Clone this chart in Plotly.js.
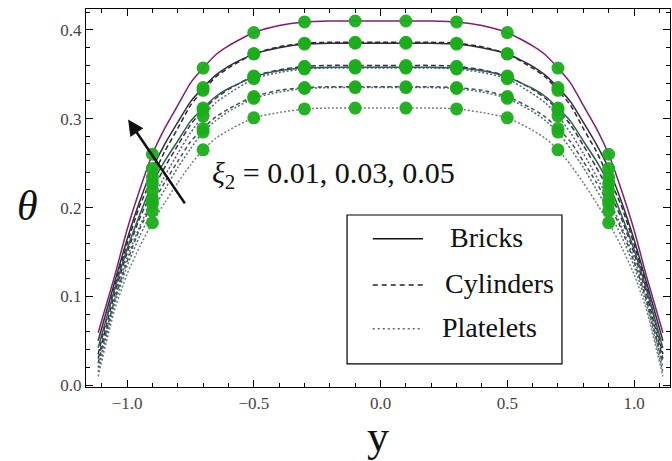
<!DOCTYPE html>
<html>
<head>
<meta charset="utf-8">
<script src="https://cdn.plot.ly/plotly-3.0.1.min.js"></script>
<style>
  html, body { margin: 0; padding: 0; background: #fff; }
  #chart { width: 672px; height: 461px; }
</style>
</head>
<body>
<div id="chart"></div>
<script>
// Channel position y across the channel
const yPos = [-1.114, -1.05, -1.0, -0.95, -0.9, -0.85, -0.8, -0.75, -0.7, -0.65, -0.6, -0.5, -0.4, -0.3, -0.2, -0.1, 0,
              0.1, 0.2, 0.3, 0.4, 0.5, 0.6, 0.65, 0.7, 0.75, 0.8, 0.85, 0.9, 0.95, 1.0, 1.05, 1.114];

// Positions where the green sample points are drawn
const dotPos = [-0.9, -0.7, -0.5, -0.3, -0.1, 0.1, 0.3, 0.5, 0.7, 0.9];

// Temperature θ — Bricks
const bricks05 = [0.059, 0.122, 0.175, 0.220, 0.260, 0.290, 0.315, 0.340, 0.357, 0.372, 0.382, 0.397, 0.405, 0.409, 0.410, 0.410, 0.410,
                  0.410, 0.410, 0.409, 0.405, 0.397, 0.382, 0.372, 0.357, 0.340, 0.315, 0.290, 0.260, 0.220, 0.175, 0.122, 0.059];
const bricks03 = [0.050, 0.115, 0.164, 0.207, 0.244, 0.272, 0.296, 0.319, 0.335, 0.349, 0.359, 0.373, 0.380, 0.384, 0.385, 0.385, 0.385,
                  0.385, 0.385, 0.384, 0.380, 0.373, 0.359, 0.349, 0.335, 0.319, 0.296, 0.272, 0.244, 0.207, 0.164, 0.115, 0.050];
const bricks01 = [0.042, 0.107, 0.153, 0.192, 0.227, 0.253, 0.275, 0.297, 0.312, 0.325, 0.334, 0.347, 0.354, 0.357, 0.358, 0.358, 0.358,
                  0.358, 0.358, 0.357, 0.354, 0.347, 0.334, 0.325, 0.312, 0.297, 0.275, 0.253, 0.227, 0.192, 0.153, 0.107, 0.042];
// Cylinders
const cyl05 = [0.035, 0.110, 0.159, 0.202, 0.234, 0.264, 0.289, 0.315, 0.332, 0.347, 0.357, 0.373, 0.381, 0.385, 0.386, 0.386, 0.386,
               0.386, 0.386, 0.385, 0.381, 0.373, 0.357, 0.347, 0.332, 0.315, 0.289, 0.264, 0.234, 0.202, 0.159, 0.110, 0.035];
const cyl03 = [0.030, 0.102, 0.149, 0.188, 0.219, 0.246, 0.270, 0.293, 0.310, 0.323, 0.333, 0.348, 0.355, 0.359, 0.360, 0.360, 0.360,
               0.360, 0.360, 0.359, 0.355, 0.348, 0.333, 0.323, 0.310, 0.293, 0.270, 0.246, 0.219, 0.188, 0.149, 0.102, 0.030];
const cyl01 = [0.025, 0.095, 0.139, 0.176, 0.204, 0.229, 0.252, 0.274, 0.289, 0.302, 0.311, 0.325, 0.332, 0.335, 0.336, 0.336, 0.336,
               0.336, 0.336, 0.335, 0.332, 0.325, 0.311, 0.302, 0.289, 0.274, 0.252, 0.229, 0.204, 0.176, 0.139, 0.095, 0.025];
// Platelets
const plt05 = [0.020, 0.096, 0.143, 0.179, 0.209, 0.236, 0.261, 0.284, 0.303, 0.318, 0.328, 0.345, 0.352, 0.356, 0.357, 0.357, 0.357,
               0.357, 0.357, 0.356, 0.352, 0.345, 0.328, 0.318, 0.303, 0.284, 0.261, 0.236, 0.209, 0.179, 0.143, 0.096, 0.020];
const plt03 = [0.015, 0.090, 0.134, 0.168, 0.196, 0.221, 0.245, 0.266, 0.285, 0.298, 0.308, 0.323, 0.330, 0.334, 0.335, 0.335, 0.335,
               0.335, 0.335, 0.334, 0.330, 0.323, 0.308, 0.298, 0.285, 0.266, 0.245, 0.221, 0.196, 0.168, 0.134, 0.090, 0.015];
const plt01 = [0.010, 0.084, 0.125, 0.156, 0.183, 0.206, 0.228, 0.248, 0.265, 0.278, 0.287, 0.301, 0.307, 0.311, 0.312, 0.312, 0.312,
               0.312, 0.312, 0.311, 0.307, 0.301, 0.287, 0.278, 0.265, 0.248, 0.228, 0.206, 0.183, 0.156, 0.125, 0.084, 0.010];

const legendNames = ['Bricks', 'Cylinders', 'Platelets'];
const xiLabel = '<i>ξ</i><sub>2</sub> = 0.01, 0.03, 0.05';

const curves = [
  { v: plt01,    color: '#7a7a7a', dash: '2px,2px' },
  { v: plt03,    color: '#3f7a5a', dash: '2px,2px' },
  { v: plt05,    color: '#5a5a90', dash: '2px,2px' },
  { v: cyl01,    color: '#4a4a5a', dash: '4px,3px' },
  { v: cyl03,    color: '#333344', dash: '5px,3px' },
  { v: cyl05,    color: '#2a2a2a', dash: '5px,3px' },
  { v: bricks01, color: '#2e5b4a', dash: 'solid' },
  { v: bricks03, color: '#34293f', dash: 'solid' },
  { v: bricks05, color: '#7d1f74', dash: 'solid' }
];

const traces = [];
curves.forEach(c => {
  traces.push({
    x: yPos, y: c.v, type: 'scatter', mode: 'lines',
    line: { color: c.color, width: 1.5, dash: c.dash, shape: 'spline', smoothing: 0.6 },
    showlegend: false, hoverinfo: 'skip'
  });
});
// green sample points taken from the same series
curves.forEach(c => {
  const dx = [], dy = [];
  yPos.forEach((p, i) => {
    if (dotPos.some(d => Math.abs(d - p) < 1e-9)) { dx.push(p); dy.push(c.v[i]); }
  });
  traces.push({
    x: dx, y: dy, type: 'scatter', mode: 'markers',
    marker: { color: 'rgb(30,172,30)', size: 13, opacity: 0.95, line: { width: 0 } },
    showlegend: false, hoverinfo: 'skip'
  });
});

const tickFont = { family: 'Liberation Serif', size: 17, color: '#444' };
const serif = 'Liberation Serif';

const axisCommon = {
  showgrid: false, zeroline: false, showline: true, linecolor: '#000', linewidth: 1.2,
  mirror: 'ticks', ticks: 'inside', tickcolor: '#000', tickwidth: 1, ticklen: 7,
  tickfont: tickFont, tickformat: '.1f'
};

// legend box drawn in paper space
const lgX0 = 0.447, lgX1 = 0.815, lgY0 = 0.061, lgY1 = 0.455;
const rowY = [0.392, 0.270, 0.154];
const sampleDash = ['solid', '5px,4px', '2px,3px'];
const sampleColor = ['#111', '#222', '#666'];
const textX = [0.62, 0.611, 0.607];

const shapes = [{
  type: 'rect', xref: 'paper', yref: 'paper', x0: lgX0, x1: lgX1, y0: lgY0, y1: lgY1,
  line: { color: '#000', width: 1.2 }, fillcolor: '#fff', layer: 'above'
}];
const annotations = [];
legendNames.forEach((n, i) => {
  shapes.push({
    type: 'line', xref: 'paper', yref: 'paper', x0: 0.491, x1: 0.577, y0: rowY[i], y1: rowY[i],
    line: { color: sampleColor[i], width: 1.5, dash: sampleDash[i] }, layer: 'above'
  });
  annotations.push({
    xref: 'paper', yref: 'paper', x: textX[i], y: rowY[i] + 0.004, xanchor: 'left', yanchor: 'middle',
    text: n, showarrow: false, font: { family: serif, size: 28, color: '#111' }
  });
});
annotations.push({
  xref: 'paper', yref: 'paper', x: 0.213, y: 0.56, xanchor: 'left', yanchor: 'middle',
  text: xiLabel, showarrow: false, font: { family: serif, size: 30, color: '#111' }
});
annotations.push({
  x: -0.996, y: 0.299, ax: -0.768, ay: 0.203, xref: 'x', yref: 'y', axref: 'x', ayref: 'y',
  text: '', showarrow: true, arrowhead: 2, arrowsize: 1.2, arrowwidth: 2.6, arrowcolor: '#111'
});
annotations.push({
  xref: 'paper', yref: 'paper', x: -0.1, y: 0.48, xanchor: 'center', yanchor: 'middle',
  text: '<i>θ</i>', showarrow: false, font: { family: serif, size: 42, color: '#111' }
});

const layout = {
  width: 672, height: 461,
  margin: { l: 86, r: 2, t: 9, b: 74 },
  paper_bgcolor: '#fff', plot_bgcolor: '#fff',
  showlegend: false,
  xaxis: Object.assign({}, axisCommon, {
    range: [-1.162, 1.142], dtick: 0.5, tick0: 0,
    minor: { dtick: 0.1, ticks: 'inside', ticklen: 4, tickcolor: '#000', showgrid: false },
    title: { text: 'y', font: { family: serif, size: 44, color: '#111' }, standoff: 0 }
  }),
  yaxis: Object.assign({}, axisCommon, {
    range: [-0.002, 0.4235], dtick: 0.1, tick0: 0,
    minor: { dtick: 0.02, ticks: 'inside', ticklen: 4, tickcolor: '#000', showgrid: false }
  }),
  shapes: shapes,
  annotations: annotations
};

Plotly.newPlot('chart', traces, layout, { displayModeBar: false, staticPlot: true });
</script>
</body>
</html>
